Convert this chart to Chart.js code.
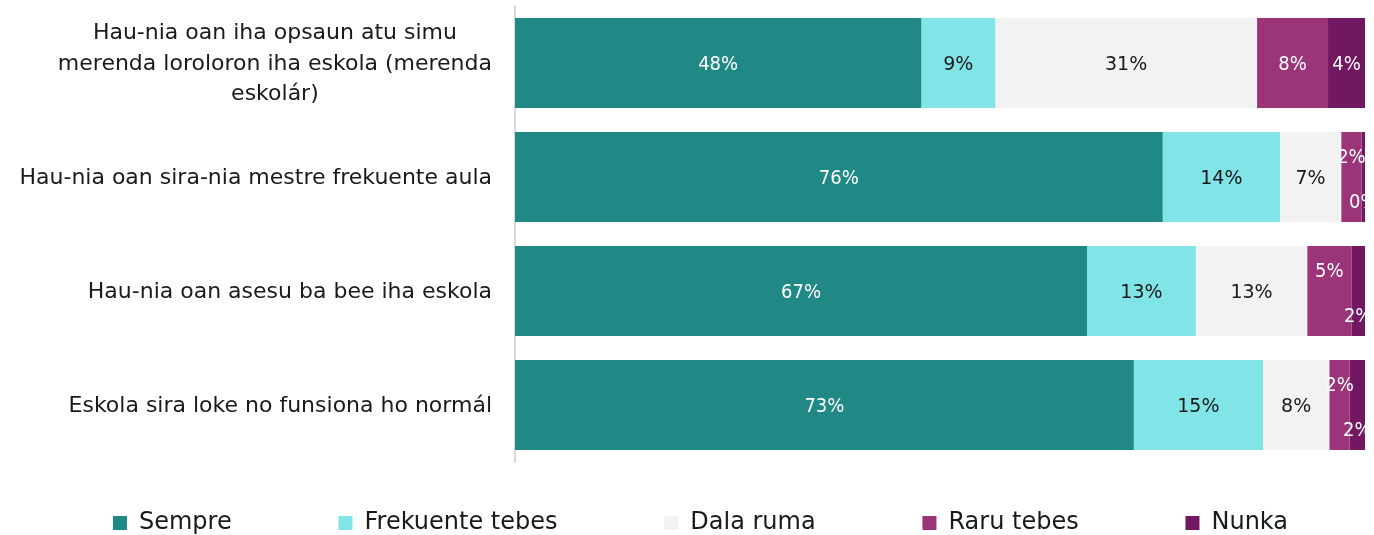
<!DOCTYPE html>
<html>
<head>
<meta charset="utf-8">
<script src="https://cdn.jsdelivr.net/npm/chart.js@4.4.1/dist/chart.umd.min.js"></script>
<style>
  html, body { margin: 0; padding: 0; background: #fff; }
  #wrap { width: 1374px; height: 535px; }
</style>
</head>
<body>
<div id="wrap"><canvas id="myChart"></canvas></div>
<script>
// categories (multi-line as in the original)
const categories = [
  ["Hau-nia oan iha opsaun atu simu", "merenda loroloron iha eskola (merenda", "eskolár)"],
  ["Hau-nia oan sira-nia mestre frekuente aula"],
  ["Hau-nia oan asesu ba bee iha eskola"],
  ["Eskola sira loke no funsiona ho normál"]
];
const seriesNames = ["Sempre", "Frekuente tebes", "Dala ruma", "Raru tebes", "Nunka"];

// percentages
const sempre    = [47.8, 76.2, 67.3, 72.8];
const frekuente = [8.7, 13.8, 12.8, 15.2];
const dalaRuma  = [30.8, 7.2, 13.1, 7.8];
const raru      = [8.35, 2.4, 5.2, 2.4];
const nunka     = [4.35, 0.4, 1.6, 1.8];

const colors = ["#208885", "#81e4e6", "#f2f2f2", "#9b3479", "#721862"];

const FONT = '"DejaVu Sans", sans-serif';
const PAD_LEFT = 36;

// value labels inside the bars
const barLabels = {
  id: 'barLabels',
  afterDatasetsDraw(chart) {
    const ctx = chart.ctx;
    ctx.save();
    ctx.textAlign = 'center';
    ctx.textBaseline = 'middle';
    chart.data.datasets.forEach((ds, di) => {
      const meta = chart.getDatasetMeta(di);
      meta.data.forEach((bar, i) => {
        const cx = (bar.x + bar.base) / 2;
        let cy = bar.y + 2;
        // small end segments: push the two labels apart
        if (di >= 3) {
          const last = chart.getDatasetMeta(4).data[i];
          if (Math.abs(last.x - last.base) < 30) cy += di === 3 ? -21 : 24;
        }
        const onDark = di === 0 || di >= 3;
        ctx.fillStyle = onDark ? '#ffffff' : '#1a1a1a';
        ctx.font = onDark ? '20px "DejaVu Sans Condensed", "DejaVu Sans", sans-serif' : '19px ' + FONT;
        ctx.fillText(Math.round(ds.data[i]) + '%', cx, cy);
      });
    });
    ctx.restore();
  }
};

// category labels: block right-aligned, lines centred inside it
const catLabels = {
  id: 'catLabels',
  afterDraw(chart) {
    const ctx = chart.ctx, y = chart.scales.y;
    ctx.save();
    ctx.font = '22px ' + FONT;
    ctx.fillStyle = '#1a1a1a';
    ctx.textAlign = 'center';
    ctx.textBaseline = 'middle';
    categories.forEach((lines, i) => {
      const w = Math.max(...lines.map(l => ctx.measureText(l).width));
      const cx = y.right - 23 - w / 2;
      const cy = y.getPixelForTick(i) + 1;
      lines.forEach((l, k) => ctx.fillText(l, cx, cy + (k - (lines.length - 1) / 2) * 30.5));
    });
    ctx.restore();
  }
};

const seriesData = [sempre, frekuente, dalaRuma, raru, nunka];

new Chart(document.getElementById('myChart'), {
  type: 'bar',
  data: {
    labels: categories,
    datasets: seriesNames.map((name, i) => ({
      label: name,
      data: seriesData[i],
      backgroundColor: colors[i],
      borderWidth: 0,
      categoryPercentage: 1,
      barPercentage: 0.79
    }))
  },
  options: {
    indexAxis: 'y',
    responsive: true,
    maintainAspectRatio: false,
    animation: false,
    layout: { padding: { top: 6, right: 9, bottom: -10, left: PAD_LEFT } },
    scales: {
      x: {
        stacked: true, min: 0, max: 100,
        ticks: { display: false },
        grid: { display: false },
        border: { display: false },
        afterFit(s) { s.height = 49; }
      },
      y: {
        stacked: true,
        grid: { display: false },
        border: { display: true, color: '#d9d9d9', width: 2 },
        // real labels are drawn by catLabels; keep these tiny so they add no padding
        ticks: { color: 'transparent', padding: 0, font: { family: FONT, size: 1, lineHeight: 0.1 } },
        afterFit(s) { s.width = 515 - PAD_LEFT; }
      }
    },
    plugins: {
      tooltip: { enabled: false },
      legend: {
        position: 'bottom',
        labels: {
          boxWidth: 14, boxHeight: 14, padding: 0,
          color: '#1a1a1a',
          font: { family: FONT, size: 24 },
          generateLabels(chart) {
            const items = Chart.defaults.plugins.legend.labels.generateLabels(chart);
            items.forEach((it, i) => {
              it.lineWidth = 0;
              if (i < items.length - 1) it.text += ' '.repeat(14);
            });
            return items;
          }
        }
      }
    }
  },
  plugins: [barLabels, catLabels]
});
</script>
</body>
</html>
